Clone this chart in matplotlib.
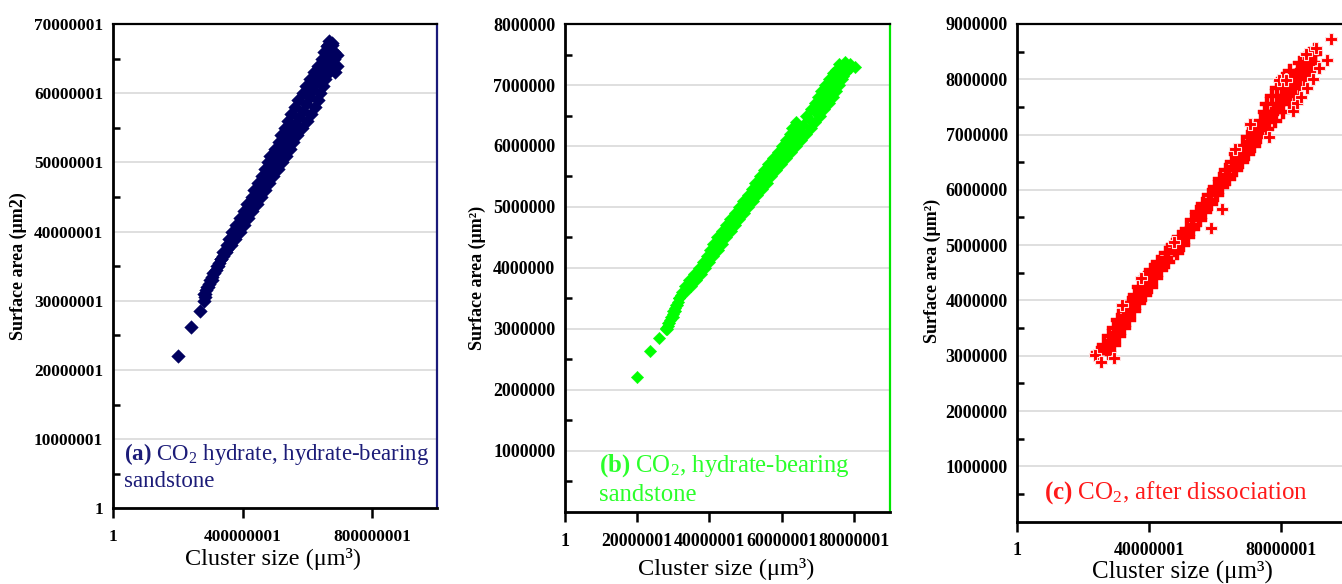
import matplotlib.pyplot as plt
from matplotlib.ticker import FixedLocator

plt.rcParams['font.family'] = ['Liberation Serif', 'DejaVu Serif']
plt.rcParams['mathtext.fontset'] = 'custom'
plt.rcParams['mathtext.rm'] = 'Liberation Serif'
plt.rcParams['mathtext.bf'] = 'Liberation Serif:bold'
plt.rcParams['mathtext.default'] = 'regular'

M = 1e6  # los valores se guardan en millones

# (a) hidrato de CO2, arenisca con hidrato  (tamaño de cluster, área superficial)
a_size = [200, 242, 268, 280, 284,
          285, 294, 305, 313, 323, 333, 340, 352, 359, 368, 379, 393, 405, 415, 428, 436, 447, 460, 468,
          478, 485, 500, 511, 520, 531, 541, 550, 562, 571, 585, 596, 609, 620, 632, 644, 652, 664,
          282, 290, 300, 310, 322, 334, 349, 364, 378, 392, 405, 418, 430, 443, 456, 469, 482, 495, 508,
          522, 533, 545, 556, 567, 583, 599, 611, 624, 632, 639, 647, 655, 668, 681, 682, 681, 675,
          288, 297, 307, 317, 328, 339, 351, 363, 374, 386, 399, 411, 423, 435, 447, 458, 471, 483, 494,
          504, 516, 528, 538, 550, 563, 575, 587, 597, 607, 617, 627, 638, 650, 660, 665, 668,
          667, 675, 660, 690, 692, 685]
a_area = [22.1, 26.2, 28.6, 30.0, 30.6,
          31, 32, 33, 34, 35, 36, 37, 38, 39, 40, 41, 42, 43, 44, 45, 46, 47, 48, 49,
          50, 51, 52, 53, 54, 55, 56, 57, 58, 59, 60, 61, 62, 63, 64, 65, 66, 67,
          31, 32, 33, 34, 35, 36, 37, 38, 39, 40, 41, 42, 43, 44, 45, 46, 47, 48, 49,
          50, 51, 52, 53, 54, 55, 56, 57, 58, 59, 60, 61, 62, 63, 64, 65, 66, 67,
          31.5, 32.5, 33.5, 34.5, 35.5, 36.5, 37.5, 38.5, 39.5, 40.5, 41.5, 42.5, 43.5, 44.5, 45.5, 46.5,
          47.5, 48.5, 49.5, 50.5, 51.5, 52.5, 53.5, 54.5, 55.5, 56.5, 57.5, 58.5, 59.5, 60.5, 61.5, 62.5,
          63.5, 64.5, 65.5, 66.5,
          67.6, 67.2, 66.8, 65.5, 64.0, 63.0]

# (b) CO2, arenisca con hidrato
b_size = [20.0, 23.5, 26.1, 27.9,
          28.0, 28.6, 29.3, 30.0, 30.8, 31.6, 32.4, 33.3, 34.3, 35.6, 37.0, 38.3, 39.3, 40.2, 41.0,
          42.2, 43.5, 44.6, 45.8, 47.0, 48.2, 49.4, 50.6, 51.7, 52.7, 54.0, 55.1, 56.1, 57.7, 59.1,
          60.2, 61.2, 62.2, 62.8, 64.0, 66.7, 68.2, 69.2, 70.1, 71.0, 72.0, 73.0, 74.2, 76.5,
          28.2, 28.9, 29.8, 30.6, 31.0, 31.6, 33.2, 34.8, 36.3, 37.6, 38.7, 39.9, 41.0, 42.3, 43.5,
          44.7, 45.9, 47.1, 48.3, 49.5, 50.7, 52.0, 53.3, 54.6, 55.9, 57.1, 58.5, 59.8, 61.2, 62.6,
          64.0, 65.3, 66.6, 68.0, 69.3, 70.5, 71.8, 73.1, 74.1, 75.1, 76.0, 76.6, 77.5, 79.1,
          28.4, 29.2, 29.9, 30.6, 31.3, 32.2, 33.4, 34.7, 36.0, 37.2, 38.5, 39.6, 40.7, 41.8, 42.9,
          44.1, 45.3, 46.5, 47.7, 48.9, 50.1, 51.3, 52.6, 53.7, 54.9, 56.2, 57.4, 58.7, 60.2, 61.5,
          62.7, 63.8, 64.9, 66.0, 67.6, 69.3, 70.6, 71.6, 72.6, 73.5, 74.4, 75.3, 76.8,
          80.2, 79.0, 77.5, 76.0, 78.0, 75.0, 77.0]
b_area = [2.21, 2.64, 2.85, 3.01,
          3.0, 3.1, 3.2, 3.3, 3.4, 3.5, 3.6, 3.7, 3.8, 3.9, 4.0, 4.1, 4.2, 4.3, 4.4,
          4.5, 4.6, 4.7, 4.8, 4.9, 5.0, 5.1, 5.2, 5.3, 5.4, 5.5, 5.6, 5.7, 5.8, 5.9,
          6.0, 6.1, 6.2, 6.3, 6.4, 6.5, 6.6, 6.7, 6.8, 6.9, 7.0, 7.1, 7.2, 7.3,
          3.0, 3.1, 3.2, 3.3, 3.4, 3.5, 3.6, 3.7, 3.8, 3.9, 4.0, 4.1, 4.2, 4.3, 4.4,
          4.5, 4.6, 4.7, 4.8, 4.9, 5.0, 5.1, 5.2, 5.3, 5.4, 5.5, 5.6, 5.7, 5.8, 5.9,
          6.0, 6.1, 6.2, 6.3, 6.4, 6.5, 6.6, 6.7, 6.8, 6.9, 7.0, 7.1, 7.2, 7.3,
          3.05, 3.15, 3.25, 3.35, 3.45, 3.55, 3.65, 3.75, 3.85, 3.95, 4.05, 4.15, 4.25, 4.35, 4.45,
          4.55, 4.65, 4.75, 4.85, 4.95, 5.05, 5.15, 5.25, 5.35, 5.45, 5.55, 5.65, 5.75, 5.85, 5.95,
          6.05, 6.15, 6.25, 6.35, 6.45, 6.55, 6.65, 6.75, 6.85, 6.95, 7.05, 7.15, 7.25,
          7.30, 7.35, 7.38, 7.35, 7.30, 7.25, 7.15]

# (c) CO2 tras la disociación: nube principal
c_size = [24.5, 26.3, 27.8, 29.3, 30.4, 32.3, 34.0, 35.6, 36.8, 38.8, 40.6, 42.8, 45.2, 47.3, 49.1,
          51.3, 53.1, 54.6, 56.3, 58.0, 59.8, 61.5, 63.3, 65.0, 66.3, 68.3, 69.8, 71.8, 73.8, 75.0,
          75.8, 77.3, 78.8, 80.6, 82.8, 85.8, 88.8,
          27.9, 29.2, 30.7, 32.2, 34.0, 35.5, 37.0, 38.7, 40.5, 42.0, 43.7, 45.7, 48.4, 50.2, 51.7,
          53.3, 55.3, 56.9, 58.7, 60.5, 62.2, 64.2, 66.2, 68.2, 70.0, 71.7, 73.5, 75.7, 78.2, 80.7,
          82.7, 84.2, 85.7, 87.2, 88.4, 89.7, 90.2,
          27.1, 28.7, 30.2, 31.7, 33.1, 34.8, 36.4, 38.1, 39.6, 41.3, 43.1, 45.2, 47.7, 49.7, 51.3,
          53.2, 55.1, 56.7, 58.4, 60.2, 61.9, 63.8, 65.7, 67.5, 69.1, 70.9, 72.6, 74.7, 76.9, 78.8,
          80.2, 81.7, 83.2, 84.8, 86.5, 88.7, 90.4,
          73.8, 76.0, 77.9, 79.3, 80.8, 82.3, 83.9, 85.6, 87.8, 89.5]
c_area = [3.05, 3.20, 3.35, 3.50, 3.65, 3.80, 3.95, 4.10, 4.25, 4.40, 4.55, 4.70, 4.85, 5.00, 5.15,
          5.30, 5.45, 5.60, 5.75, 5.90, 6.05, 6.20, 6.35, 6.50, 6.65, 6.80, 6.95, 7.10, 7.25, 7.40,
          7.55, 7.70, 7.85, 8.00, 8.15, 8.30, 8.45,
          3.05, 3.20, 3.35, 3.50, 3.65, 3.80, 3.95, 4.10, 4.25, 4.40, 4.55, 4.70, 4.85, 5.00, 5.15,
          5.30, 5.45, 5.60, 5.75, 5.90, 6.05, 6.20, 6.35, 6.50, 6.65, 6.80, 6.95, 7.10, 7.25, 7.40,
          7.55, 7.70, 7.85, 8.00, 8.15, 8.30, 8.45,
          3.12, 3.27, 3.42, 3.57, 3.72, 3.87, 4.02, 4.17, 4.32, 4.47, 4.62, 4.77, 4.92, 5.07, 5.22,
          5.37, 5.52, 5.67, 5.82, 5.97, 6.12, 6.27, 6.42, 6.57, 6.72, 6.87, 7.02, 7.17, 7.32, 7.47,
          7.62, 7.77, 7.92, 8.07, 8.22, 8.37, 8.52,
          7.10, 7.25, 7.40, 7.55, 7.70, 7.85, 8.00, 8.15, 8.30, 8.45]
# (c) puntos sueltos
c_out_size = [23.4, 25.4, 29.4, 31.7, 37.6, 47.4, 58.8, 62.2, 66.0, 70.5, 76.2, 79.2, 81.5,
              83.5, 84.8, 86.0, 87.8, 89.8, 91.6, 93.9, 87.5, 90.5, 95.1]
c_out_area = [3.01, 2.89, 2.95, 3.92, 4.40, 5.05, 5.31, 5.65, 6.73, 7.19, 6.96, 7.99, 7.99,
              7.43, 7.57, 7.67, 7.84, 8.00, 8.20, 8.34, 8.45, 8.56, 8.72]

# ejes y etiquetas de ticks
a_xticks = [1, 400000001, 800000001]
a_yticks = [1, 10000001, 20000001, 30000001, 40000001, 50000001, 60000001, 70000001]
b_xticks = [1, 20000001, 40000001, 60000001, 80000001]
b_yticks = [1000000, 2000000, 3000000, 4000000, 5000000, 6000000, 7000000, 8000000]
c_xticks = [1, 40000001, 80000001]
c_yticks = [1000000, 2000000, 3000000, 4000000, 5000000, 6000000, 7000000, 8000000, 9000000]


def preparar_eje(ax, xlim, xticks, ylim, yticks, ymenor, color_der, fs):
    ax.set_xlim(xlim)
    ax.set_ylim(ylim)
    ax.xaxis.set_major_locator(FixedLocator(xticks))
    ax.set_xticklabels([str(v) for v in xticks], fontweight='bold', fontsize=fs)
    ax.yaxis.set_major_locator(FixedLocator(yticks))
    ax.set_yticklabels([str(v) for v in yticks], fontweight='bold', fontsize=fs)
    ax.yaxis.set_minor_locator(FixedLocator(ymenor))
    ax.tick_params(axis='y', which='major', length=0, pad=7)
    ax.tick_params(axis='y', which='minor', direction='in', length=5, width=1.8)
    ax.tick_params(axis='x', which='major', direction='out', length=7, width=1.8, pad=8)
    ax.grid(axis='y', color='#d9d9d9', lw=1.2)
    ax.set_axisbelow(True)
    ax.spines['left'].set_linewidth(2.0)
    ax.spines['bottom'].set_linewidth(2.0)
    ax.spines['top'].set_linewidth(1.6)
    ax.spines['right'].set_linewidth(1.6)
    ax.spines['right'].set_color(color_der)


fig = plt.figure(figsize=(13.42, 5.84), dpi=100)

# ---- (a)
ax1 = fig.add_axes([0.0842, 0.1293, 0.2414, 0.8296])
preparar_eje(ax1, (1, 1000000001), a_xticks, (1, 70000001), a_yticks,
             [v + 5000000 for v in a_yticks[:-1]], '#1a1a7a', 12.4)
ax1.scatter([v * M for v in a_size], [v * M for v in a_area], marker='D', s=48,
            color='#00005e', edgecolors='#00005e', linewidths=0.3, zorder=3)
ax1.set_xlabel('Cluster size (μm³)', fontsize=17.5)
ax1.set_ylabel('Surface area (μm2)', fontsize=13, fontweight='bold')
ax1.xaxis.set_label_coords(0.494, -0.081)
ax1.yaxis.set_label_coords(-0.265, 0.5)
ax1.text(0.034, 0.100, r'$\mathbf{(a)}$ CO$_2$ hydrate, hydrate-bearing', transform=ax1.transAxes,
         fontsize=16.5, color='#1c1c78', va='baseline')
ax1.text(0.034, 0.045, 'sandstone', transform=ax1.transAxes,
         fontsize=16.5, color='#1c1c78', va='baseline')

# ---- (b)
ax2 = fig.add_axes([0.4210, 0.1233, 0.2422, 0.8356])
preparar_eje(ax2, (1, 90000001), b_xticks, (0, 8000000), b_yticks,
             [v - 500000 for v in b_yticks], '#00e600', 12.9)
ax2.scatter([v * M for v in b_size], [v * M for v in b_area], marker='D', s=40,
            color='#00ff00', edgecolors='#00ff00', linewidths=0.3, zorder=3)
ax2.set_xlabel('Cluster size (μm³)', fontsize=17.6)
ax2.set_ylabel('Surface area (μm²)', fontsize=13, fontweight='bold')
ax2.xaxis.set_label_coords(0.495, -0.094)
ax2.yaxis.set_label_coords(-0.243, 0.48)
ax2.text(0.105, 0.083, r'$\mathbf{(b)}$ CO$_2$, hydrate-bearing', transform=ax2.transAxes,
         fontsize=17.8, color='#2bff2b', va='baseline')
ax2.text(0.105, 0.0225, 'sandstone', transform=ax2.transAxes,
         fontsize=17.8, color='#2bff2b', va='baseline')

# ---- (c)
ax3 = fig.add_axes([0.7581, 0.1068, 0.2457, 0.8522])
preparar_eje(ax3, (1, 100000001), c_xticks, (0, 9000000), c_yticks,
             [v - 500000 for v in c_yticks], '#ff0000', 12.9)
ax3.scatter([v * M for v in c_size], [v * M for v in c_area], marker='P', s=110,
            color='#ff0000', edgecolors='#ff0000', linewidths=0.3, zorder=3)
ax3.scatter([v * M for v in c_out_size], [v * M for v in c_out_area], marker='P', s=85,
            color='#ff0000', edgecolors='#ffe0e0', linewidths=0.8, zorder=4)
ax3.set_xlabel('Cluster size (μm³)', fontsize=18)
ax3.set_ylabel('Surface area (μm²)', fontsize=13, fontweight='bold')
ax3.xaxis.set_label_coords(0.501, -0.078)
ax3.yaxis.set_label_coords(-0.231, 0.503)
ax3.text(0.081, 0.047, r'$\mathbf{(c)}$ CO$_2$, after dissociation', transform=ax3.transAxes,
         fontsize=18, color='#ff1a1a', va='baseline')

fig.savefig('out.png', dpi=100)
